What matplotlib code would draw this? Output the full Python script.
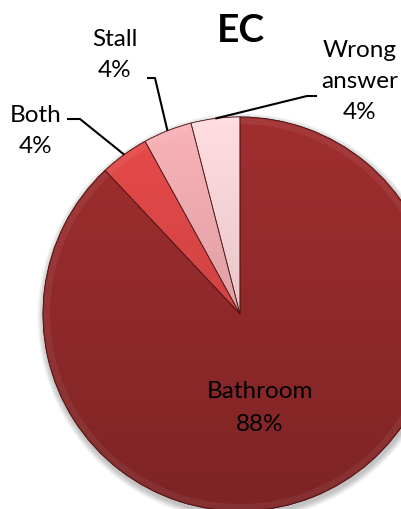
import numpy as np
import matplotlib
matplotlib.use("Agg")
import matplotlib.pyplot as plt
from matplotlib.patches import Wedge, Circle
from matplotlib.colors import to_rgb

plt.rcParams['font.family'] = ['Lato', 'DejaVu Sans']

# Data
categories = ["Bathroom", "Both", "Stall", "Wrong\nanswer"]
shares = [88, 4, 4, 4]
colors = ["#922a2b", "#d44444", "#e3a3a7", "#f2c9cc"]
title = "EC"

W, H = 401, 510
fig = plt.figure(figsize=(W / 100, H / 100), dpi=100)
ax = fig.add_axes([0, 0, 1, 1])

center = (240, 315)
radius = 197

# soft drop shadow under the pie
for k in range(8):
    ax.add_patch(Circle((center[0] + 1, center[1] + 3), radius + 1 + k * 0.8,
                        facecolor="black", edgecolor="none",
                        alpha=0.03, zorder=0))

wedges, _ = ax.pie(shares, colors=colors, startangle=-90, counterclock=True,
                   center=center, radius=radius,
                   wedgeprops=dict(edgecolor="#4a1414", linewidth=0.6))


def scale(c, f):
    return np.clip(np.array(to_rgb(c)) * f, 0, 1)


# vertical gradient inside each slice (brighter on top)
ys = np.linspace(0, 1, 256)[:, None]
for w, c in zip(wedges, colors):
    top = scale(c, 1.10)
    bot = scale(c, 0.86)
    grad = top[None, None, :] * (1 - ys[..., None]) + bot[None, None, :] * ys[..., None]
    grad = np.repeat(grad, 2, axis=1)
    im = ax.imshow(grad, extent=(center[0] - radius, center[0] + radius,
                                 center[1] + radius, center[1] - radius),
                   aspect="auto", interpolation="bilinear", zorder=1.5)
    im.set_clip_path(w)
    # bevel highlight along the rim
    ax.add_patch(Wedge(center, radius - 1, w.theta1, w.theta2, width=6,
                       facecolor="white", alpha=0.06, edgecolor="none", zorder=1.6))
    ax.add_patch(Wedge(center, radius, w.theta1, w.theta2, fill=False,
                       edgecolor="#4a1414", linewidth=0.6, alpha=0.8, zorder=1.7))

# title
ax.text(241, 42, title, ha="center", va="baseline", fontsize=28,
        fontweight="bold", color="black")


def stacked_label(x, y0, text, step):
    # one text per line so each baseline sits where it should
    for k, line in enumerate(text.split("\n")):
        ax.text(x, y0 + k * step, line, ha="center", va="baseline",
                fontsize=17.5, color="black", zorder=3)


# in-slice label for the large slice
stacked_label(260, 398, f"{categories[0]}\n{shares[0]}%", 33)

# outside labels with leader lines to the slice rim
label_pos = {1: (36, 122), 2: (115, 46), 3: (360, 57)}
elbows = {1: [(67, 120), (80, 120)],
          2: [(147, 79), (155, 79)],
          3: [(317, 97), (307, 97)]}
for i in (1, 2, 3):
    x, y = label_pos[i]
    stacked_label(x, y, f"{categories[i]}\n{shares[i]}%", 31)
    w = wedges[i]
    mid = np.deg2rad((w.theta1 + w.theta2) / 2)
    rim = (center[0] + radius * np.cos(mid), center[1] + radius * np.sin(mid))
    pts = elbows[i] + [rim]
    ax.plot([p[0] for p in pts], [p[1] for p in pts], color="black",
            linewidth=1.5, solid_capstyle="butt", zorder=3)

ax.set_xlim(0, W)
ax.set_ylim(H, 0)
ax.set_aspect("auto")
ax.axis("off")

fig.savefig("out.png", dpi=100)
